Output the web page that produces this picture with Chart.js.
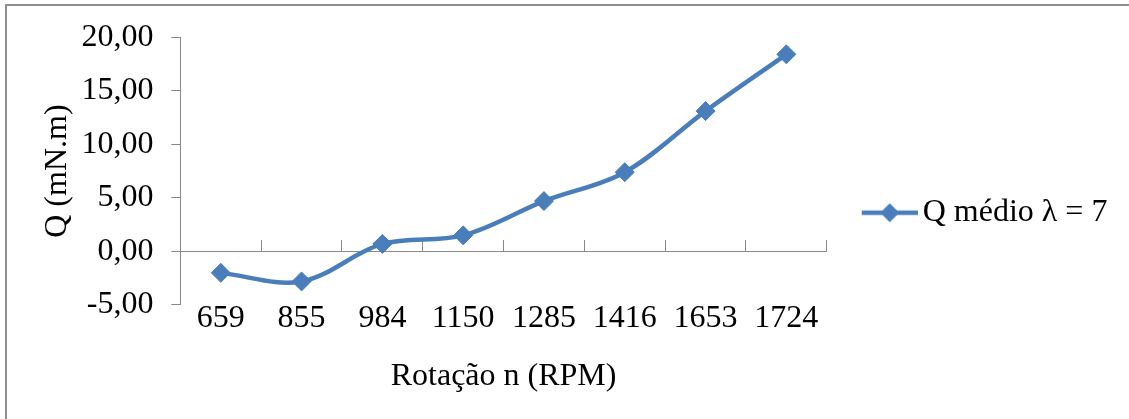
<!DOCTYPE html>
<html>
<head>
<meta charset="utf-8">
<script src="https://cdn.jsdelivr.net/npm/chart.js@4/dist/chart.umd.min.js"></script>
<style>
  html, body { margin: 0; padding: 0; background: #fff; overflow: hidden; }
  #wrap { position: absolute; left: 0; top: 0; width: 1129px; height: 419px; }
  #frame { position: absolute; left: 5px; top: 4px; width: 1200px; height: 500px;
           border-left: 2px solid #8f8f8f; border-top: 2px solid #8f8f8f; box-sizing: border-box; }
  canvas { position: absolute; left: 0; top: 0; }
</style>
</head>
<body>
<div id="wrap">
  <canvas id="c" width="1129" height="419"></canvas>
  <div id="frame"></div>
</div>
<script>
const categories = ['659', '855', '984', '1150', '1285', '1416', '1653', '1724'];
const qMedio = [-2.0, -2.8, 0.7, 1.5, 4.7, 7.4, 13.1, 18.4];
const seriesName = 'Q médio λ = 7';
const yTitle = 'Q (mN.m)';
const xTitle = 'Rotação n (RPM)';

const BLUE = '#4A7EBB';
const AXIS = '#898989';
const FONT = "'Liberation Serif', 'Times New Roman', serif";
const FS = 32;
const LFS = 32;

// legend symbol: line with diamond, with transparent left margin
function legendSymbol() {
  const W = 92, H = 24;
  const cv = document.createElement('canvas');
  cv.width = W; cv.height = H;
  const g = cv.getContext('2d');
  const x0 = 36, x1 = 92, cy = H / 2;
  g.strokeStyle = BLUE; g.lineWidth = 4.5;
  g.beginPath(); g.moveTo(x0, cy); g.lineTo(x1, cy); g.stroke();
  const cx = (x0 + x1) / 2, r = 9.5;
  g.fillStyle = BLUE;
  g.beginPath(); g.moveTo(cx - r, cy); g.lineTo(cx, cy - r); g.lineTo(cx + r, cy); g.lineTo(cx, cy + r); g.closePath(); g.fill();
  return cv;
}
const sym = legendSymbol();

new Chart(document.getElementById('c'), {
  type: 'line',
  data: {
    labels: categories,
    datasets: [{
      label: seriesName,
      data: qMedio,
      borderColor: BLUE,
      backgroundColor: BLUE,
      borderWidth: 4.5,
      tension: 0.35,
      pointStyle: 'rectRot',
      pointRadius: 9.5,
      pointBorderWidth: 1,
      pointBackgroundColor: BLUE,
      pointBorderColor: BLUE,
      xAxisID: 'x',
      yAxisID: 'y'
    }]
  },
  options: {
    responsive: false,
    animation: false,
    devicePixelRatio: 1,
    layout: { padding: { left: -60, right: 11.6, top: 15.4, bottom: 18.8 } },
    plugins: {
      tooltip: { enabled: false },
      legend: {
        position: 'right',
        title: { display: true, text: ' ', padding: 0, font: { family: FONT, size: 8.2 } },
        labels: {
          usePointStyle: true,
          pointStyleWidth: 70,
          padding: 10,
          color: '#000',
          font: { family: FONT, size: LFS },
          generateLabels: (chart) => [{
            text: seriesName,
            pointStyle: sym,
            fillStyle: BLUE,
            strokeStyle: BLUE,
            lineWidth: 0,
            hidden: false,
            datasetIndex: 0,
            fontColor: '#000'
          }]
        }
      }
    },
    scales: {
      x: {
        type: 'category',
        position: { y: 0 },
        offset: true,
        grid: { display: true, drawOnChartArea: false, offset: true, tickLength: -12, color: AXIS, lineWidth: 1 },
        border: { display: true, color: AXIS, width: 1 },
        ticks: { display: false }
      },
      x2: {
        type: 'category',
        labels: categories,
        position: 'bottom',
        offset: true,
        grid: { display: false },
        border: { display: false },
        ticks: { color: '#000', font: { family: FONT, size: FS }, padding: -13.8, maxRotation: 0, autoSkip: false },
        title: { display: true, text: xTitle, color: '#000', font: { family: FONT, size: FS }, padding: { top: 34, bottom: 4 } }
      },
      y: {
        min: -5,
        max: 20,
        ticks: {
          stepSize: 5,
          color: '#000',
          font: { family: FONT, size: FS },
          padding: 18,
          callback: (v) => Number(v).toFixed(2).replace('.', ',')
        },
        grid: { display: true, drawOnChartArea: false, tickLength: 9, color: AXIS },
        border: { display: true, color: AXIS, width: 1 },
        title: { display: true, text: yTitle, color: '#000', font: { family: FONT, size: FS }, padding: { top: 98.8, bottom: -13.8 } }
      }
    }
  }
});
</script>
</body>
</html>
